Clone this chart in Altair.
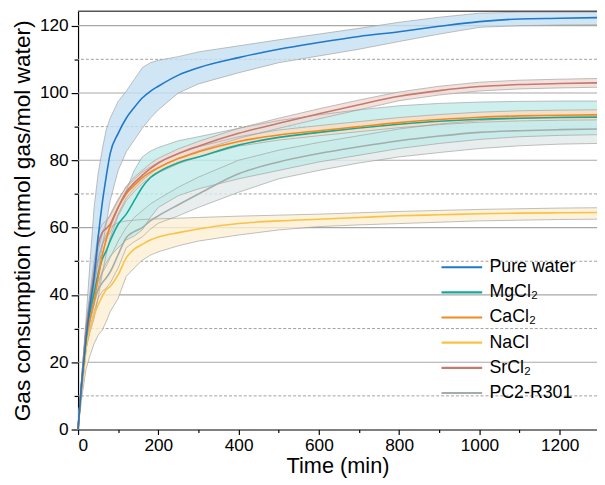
import altair as alt
import pandas as pd

T = [0, 5, 10, 15, 20, 30, 40, 50, 60, 70, 80, 100, 120, 140, 160, 180, 200,
     250, 300, 400, 500, 600, 700, 800, 900, 1000, 1100, 1200, 1293]

series = ["Pure water", "MgCl\u2082", "CaCl\u2082", "NaCl", "SrCl\u2082", "PC2-R301"]

water_mean = [0, 8, 15, 21, 27, 37, 45, 57, 67, 75, 82, 88, 92.5, 95.7, 98.5, 100.5, 102,
              105.3, 107.5, 110.5, 113, 115, 116.8, 118.2, 119.8, 121.2, 122, 122.2, 122.4]
water_hi = [0, 9, 17, 25, 33, 50, 66, 76, 83, 89, 92.5, 97.5, 100.5, 104, 107.5, 109, 109.7,
            110.8, 112.2, 114, 115.8, 117.5, 119.2, 121, 122.5, 123.7, 124, 124, 124]
water_lo = [0, 7, 13, 19, 24, 33, 40, 47, 54, 61, 68, 77, 82.5, 86, 89.5, 92.5, 95,
            100, 102.7, 106, 109, 111, 113, 115.3, 117.5, 119.5, 120, 120.2, 120.3]

mg_mean = [0, 8, 15, 21, 27, 35, 40.5, 46, 50.5, 53, 56, 61, 64, 68, 72, 74.8, 76.5,
           79.3, 81, 84.5, 86.8, 88.3, 89.6, 90.7, 91.6, 92.2, 92.5, 92.7, 92.8]
mg_hi = [0, 9, 17, 24, 31, 40, 46, 50, 52, 56, 60, 66, 71, 77, 81, 82.7, 83.8,
         85.8, 87, 89.5, 91.8, 93.5, 95, 96.2, 96.9, 97.3, 97.5, 97.6, 97.6]
mg_lo = [0, 7, 14, 20, 25, 32, 37, 42, 47, 49.5, 51.5, 54, 56.3, 57.5, 59.3, 63, 66,
         69.5, 71.5, 74.5, 77, 79.5, 81.5, 83.5, 85, 86.2, 87, 87.4, 87.6]

ca_mean = [0, 8, 15, 21, 27, 33, 38, 45, 51.5, 56.5, 60.5, 66, 70, 72.5, 74.8, 76.5, 77.8,
           80.5, 82.5, 85.6, 87.5, 88.8, 90, 91.2, 92.1, 92.8, 93.2, 93.4, 93.5]
ca_hi = [0, 9, 17, 24, 30, 38, 45, 53, 58, 61.5, 64, 68.5, 72, 74.3, 76.5, 78, 79.3,
         82, 84, 87, 89, 90.3, 91.5, 92.7, 93.6, 94.3, 94.7, 94.9, 95]
ca_lo = [0, 7, 13, 18, 24, 29, 33, 39, 46, 52, 57, 63.5, 68, 70.7, 73.1, 75, 76.3,
         79, 81, 84.2, 86, 87.3, 88.5, 89.7, 90.6, 91.3, 91.7, 91.9, 92]

na_mean = [0, 7, 13, 18, 24, 30, 34, 37, 39.5, 41.5, 42.5, 46, 51, 53.6, 55, 56.3, 57.2,
           58.5, 59.6, 61.2, 62, 62.5, 63, 63.5, 63.8, 64.1, 64.3, 64.4, 64.5]
na_hi = [0, 8, 15, 21, 28, 36, 42, 50, 55, 58, 60, 61.5, 62, 62.2, 62.4, 62.5, 62.6,
         62.8, 63, 63.4, 63.7, 64, 64.4, 64.8, 65.1, 65.4, 65.6, 65.8, 65.9]
na_lo = [0, 5, 10, 14, 18, 22, 25.5, 28, 29.5, 32, 35, 39, 45.5, 48, 50.3, 51.8, 52.8,
         54.6, 56, 57.8, 59.3, 60.3, 60.8, 61.2, 61.6, 62, 62.2, 62.4, 62.5]

sr_mean = [0, 8, 15, 22, 29, 38, 47, 55, 58.5, 59.7, 61, 66, 70.5, 73.3, 75.5, 77.5, 79.2,
           82, 84.2, 88, 91, 93.8, 96.5, 99, 100.7, 101.9, 102.5, 102.8, 103]
sr_hi = [0, 9, 17, 24, 31, 41, 50, 58, 61, 62, 63.5, 68, 72.3, 75, 77, 79, 80.6,
         83.4, 85.6, 89.5, 92.5, 95.3, 97.9, 100.3, 102, 103.2, 103.8, 104.1, 104.3]
sr_lo = [0, 7, 13, 20, 27, 35, 43, 51, 55, 57, 58.5, 64, 68.8, 71.6, 74, 76, 77.8,
         80.6, 82.8, 86.5, 89.5, 92.3, 95, 97.7, 99.4, 100.6, 101.2, 101.5, 101.7]

pc_mean = [0, 8, 14, 20, 26, 33, 38, 41.5, 43.5, 45, 46.8, 52, 57, 58.8, 60, 62, 63.5,
           66.8, 70, 76, 79.5, 82, 84, 85.8, 87.2, 88.3, 88.8, 89.1, 89.3]
pc_hi = [0, 9, 16, 22, 28, 36, 41, 44, 46.5, 48.5, 51, 56, 60, 63, 65, 67, 68.5,
         72, 75, 80, 83, 85.3, 87.3, 89.3, 90.8, 91.8, 92.5, 92.9, 93]
pc_lo = [0, 7, 12, 18, 24, 30, 35, 39, 41, 42, 43.5, 48, 54, 55.8, 57.2, 59.5, 61.3,
         63.5, 66, 70.5, 74.5, 77, 79.2, 81, 82.3, 83.5, 84.3, 84.8, 85]

y_ticks = list(range(0, 121, 10))
x_ticks = list(range(0, 1201, 100))
major_grid = [20, 40, 60, 80, 100, 120]
minor_grid = [10, 30, 50, 70, 90, 110]

line_colors = ["#1f78c8", "#17a89a", "#f28a1e", "#f9c245", "#c27b6d", "#a3adab"]
band_colors = ["#c6e0f2", "#c0ebe8", "#fbdcc0", "#fdefd2", "#f1d9d4", "#e2e9e8"]

vals = {
    series[0]: (water_mean, water_lo, water_hi),
    series[1]: (mg_mean, mg_lo, mg_hi),
    series[2]: (ca_mean, ca_lo, ca_hi),
    series[3]: (na_mean, na_lo, na_hi),
    series[4]: (sr_mean, sr_lo, sr_hi),
    series[5]: (pc_mean, pc_lo, pc_hi),
}
draw_order = ["PC2-R301", "NaCl", "MgCl\u2082", "CaCl\u2082", "SrCl\u2082", "Pure water"]
rows = []
for s in draw_order:
    m, lo, hi = vals[s]
    for i, t in enumerate(T):
        rows.append({"series": s, "band": s + " band", "t": t, "mean": m[i],
                     "lo": lo[i], "hi": hi[i], "order": draw_order.index(s)})
df = pd.DataFrame(rows)

W, H = 526, 424
xscale = alt.Scale(domain=[0, 1293], nice=False, zero=False)
yscale = alt.Scale(domain=[0, 124.3], nice=False, zero=False)
FONT = "Liberation Sans"

xaxis = alt.Axis(values=x_ticks, labelExpr="datum.value % 200 == 0 ? datum.value : ''",
                 tickSize={"expr": "datum.value % 200 == 0 ? 5 : 3"},
                 grid=False, title="Time (min)", titleFontSize=22, titleFontWeight="normal",
                 labelFontSize=17.5, labelFont=FONT, titleFont=FONT,
                 domainColor="black", tickColor="black", labelColor="black", titleColor="black",
                 domainWidth=1.2, tickWidth=1.2, labelPadding=2, titlePadding=2)
yaxis = alt.Axis(values=y_ticks, labelExpr="datum.value % 20 == 0 ? datum.value : ''",
                 tickSize={"expr": "datum.value % 20 == 0 ? 7 : 4"},
                 grid=False,
                 title="Gas consumption (mmol gas/mol water)", titleFontSize=23,
                 titleFontWeight="normal",
                 labelFontSize=17.5, labelFont=FONT, titleFont=FONT,
                 domainColor="black", tickColor="black", labelColor="black", titleColor="black",
                 domainWidth=1.2, tickWidth=1.2, labelPadding=3, titlePadding=5)

grid_major = alt.Chart(pd.DataFrame({"g": major_grid})).mark_rule(
    color="#a8a8a8", strokeWidth=1.1).encode(y=alt.Y("g:Q", scale=yscale, axis=yaxis))
grid_minor = alt.Chart(pd.DataFrame({"g": minor_grid})).mark_rule(
    color="#a0a0a0", strokeWidth=1, strokeDash=[3, 2]).encode(
    y=alt.Y("g:Q", scale=yscale, axis=yaxis))

base = alt.Chart(df)

bands = base.mark_area(fillOpacity=0.8, strokeWidth=0).encode(
    x=alt.X("t:Q", scale=xscale, axis=xaxis),
    y=alt.Y("lo:Q", scale=yscale, axis=yaxis),
    y2="hi:Q",
    fill=alt.Fill("band:N", scale=alt.Scale(domain=[s + " band" for s in series],
                                            range=band_colors), legend=None),
    order=alt.Order("order:Q"),
)

edge_lo = base.mark_line(stroke="#9c9c9c", strokeWidth=0.8, opacity=0.8).encode(
    x=alt.X("t:Q", scale=xscale, axis=xaxis), y=alt.Y("lo:Q", scale=yscale, axis=yaxis),
    detail="series:N")
edge_hi = base.mark_line(stroke="#9c9c9c", strokeWidth=0.8, opacity=0.8).encode(
    x=alt.X("t:Q", scale=xscale, axis=xaxis), y=alt.Y("hi:Q", scale=yscale, axis=yaxis),
    detail="series:N")

lines = base.mark_line(strokeWidth=1.6, interpolate="monotone").encode(
    x=alt.X("t:Q", scale=xscale, axis=xaxis),
    y=alt.Y("mean:Q", scale=yscale, axis=yaxis),
    stroke=alt.Stroke("series:N", scale=alt.Scale(domain=series, range=line_colors),
                      sort=series,
                      legend=alt.Legend(title=None, orient="none", legendX=367, legendY=247,
                                        symbolType="stroke", symbolSize=1700,
                                        symbolStrokeWidth=2.2, labelFontSize=18,
                                        labelFont=FONT, labelColor="black",
                                        labelOffset=6, rowPadding=0.5, clipHeight=25,
                                        padding=0)),
)

top = alt.Chart(pd.DataFrame({"a": [0]})).mark_rule(color="#555555", strokeWidth=1.5).encode(
    x=alt.value(0), x2=alt.value(W), y=alt.value(0))

chart = alt.layer(grid_major, grid_minor, bands, edge_lo, edge_hi, lines, top).properties(
    width=W, height=H,
    autosize=alt.AutoSizeParams(type="none"),
    padding={"left": 71, "top": 0, "right": 0, "bottom": 53},
).configure_view(stroke=None)

chart.save("out.html", embed_options={"renderer": "svg", "actions": False})
